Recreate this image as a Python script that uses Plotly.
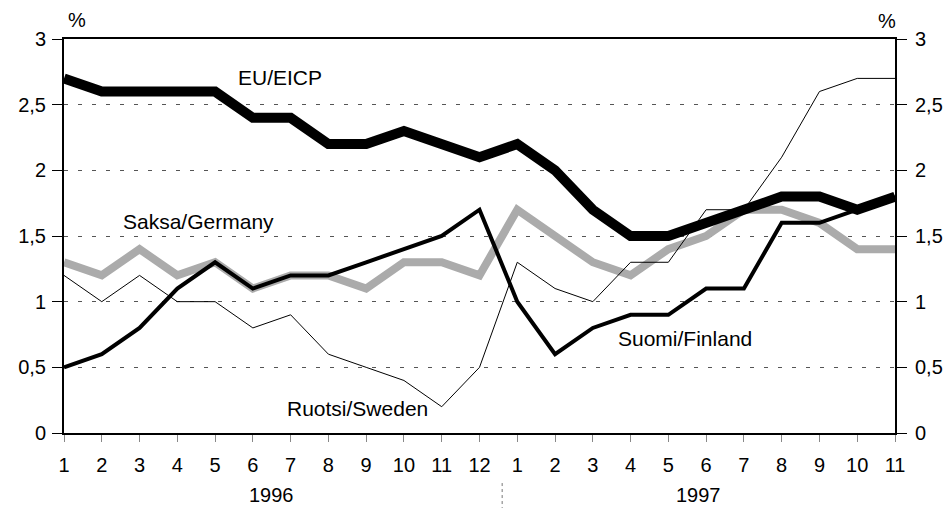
import plotly.graph_objects as go

months = ["1","2","3","4","5","6","7","8","9","10","11","12",
          "1","2","3","4","5","6","7","8","9","10","11"]
years = ["1996", "1997"]
y_ticks = [0, 0.5, 1, 1.5, 2, 2.5, 3]
y_tick_labels = ["0", "0,5", "1", "1,5", "2", "2,5", "3"]

eu = [2.7, 2.6, 2.6, 2.6, 2.6, 2.4, 2.4, 2.2, 2.2, 2.3, 2.2, 2.1,
      2.2, 2.0, 1.7, 1.5, 1.5, 1.6, 1.7, 1.8, 1.8, 1.7, 1.8]
finland = [0.5, 0.6, 0.8, 1.1, 1.3, 1.1, 1.2, 1.2, 1.3, 1.4, 1.5, 1.7,
           1.0, 0.6, 0.8, 0.9, 0.9, 1.1, 1.1, 1.6, 1.6, 1.7, 1.8]
sweden = [1.2, 1.0, 1.2, 1.0, 1.0, 0.8, 0.9, 0.6, 0.5, 0.4, 0.2, 0.5,
          1.3, 1.1, 1.0, 1.3, 1.3, 1.7, 1.7, 2.1, 2.6, 2.7, 2.7]
germany = [1.3, 1.2, 1.4, 1.2, 1.3, 1.1, 1.2, 1.2, 1.1, 1.3, 1.3, 1.2,
           1.7, 1.5, 1.3, 1.2, 1.4, 1.5, 1.7, 1.7, 1.6, 1.4, 1.4]

x = list(range(len(months)))
FONT = "Liberation Sans, Arial, sans-serif"

# page body has an 8px margin, so the figure is placed at (8, 8)
fig = go.Figure()
fig.add_trace(go.Scatter(x=x, y=germany, mode="lines", name="Saksa/Germany",
                         line=dict(color="#ababab", width=8)))
fig.add_trace(go.Scatter(x=x, y=sweden, mode="lines", name="Ruotsi/Sweden",
                         line=dict(color="black", width=1)))
fig.add_trace(go.Scatter(x=x, y=finland, mode="lines", name="Suomi/Finland",
                         line=dict(color="black", width=4)))
fig.add_trace(go.Scatter(x=x, y=eu, mode="lines", name="EU/EICP",
                         line=dict(color="black", width=10)))
fig.add_trace(go.Scatter(x=[x[0]], y=[eu[0]], yaxis="y2", mode="markers",
                         marker=dict(opacity=0), showlegend=False, hoverinfo="skip"))

axis_font = dict(family=FONT, size=20, color="black")

fig.update_layout(
    width=936, height=500,
    margin=dict(l=56, r=49, t=31, b=75),
    paper_bgcolor="white", plot_bgcolor="white",
    showlegend=False,
    font=dict(family=FONT, color="black"),
    xaxis=dict(range=[0, 22], tickvals=x, ticktext=months, tickfont=axis_font,
               showgrid=False, zeroline=False, showline=True, linecolor="black",
               linewidth=2, mirror=True, ticks="outside", ticklen=7,
               tickcolor="#888", tickwidth=1, ticklabelstandoff=6,
               automargin=False),
    yaxis=dict(range=[0, 3], tickvals=y_ticks, ticktext=y_tick_labels,
               tickfont=axis_font, showgrid=True, gridcolor="#555",
               griddash="4px,10px", gridwidth=1, zeroline=False, showline=True,
               linecolor="black", linewidth=2, ticks="outside", ticklen=10,
               tickcolor="black", ticklabelstandoff=2, automargin=False),
    yaxis2=dict(range=[0, 3], tickvals=y_ticks, ticktext=y_tick_labels,
                tickfont=axis_font, overlaying="y", side="right", anchor="x",
                showgrid=False, zeroline=False, showline=True, linecolor="black",
                linewidth=2, ticks="outside", ticklen=10, tickcolor="black",
                ticklabelstandoff=4, automargin=False),
)

lab = dict(family=FONT, size=21, color="black")
fig.add_annotation(x=5.72, y=2.71, text="EU/EICP", showarrow=False, font=lab)
fig.add_annotation(x=3.57, y=1.607, text="Saksa/Germany", showarrow=False, font=lab)
fig.add_annotation(x=7.76, y=0.19, text="Ruotsi/Sweden", showarrow=False, font=lab)
fig.add_annotation(x=16.44, y=0.72, text="Suomi/Finland", showarrow=False, font=lab)

fig.add_annotation(x=5.5, y=-0.157, xref="x", yref="paper", text=years[0],
                   showarrow=False, font=axis_font, yanchor="middle")
fig.add_annotation(x=16.8, y=-0.157, xref="x", yref="paper", text=years[1],
                   showarrow=False, font=axis_font, yanchor="middle")
fig.add_annotation(x=(77 - 64) / 831, y=1 + (39 - 20) / 394, xref="paper", yref="paper",
                   text="%", showarrow=False, font=axis_font,
                   xanchor="center", yanchor="middle")
fig.add_annotation(x=(887 - 64) / 831, y=1 + (39 - 21) / 394, xref="paper", yref="paper",
                   text="%", showarrow=False, font=axis_font,
                   xanchor="center", yanchor="middle")

fig.add_shape(type="line", xref="x", yref="paper", x0=11.6, x1=11.6,
              y0=-0.127, y1=-0.19, line=dict(color="#777", width=1, dash="dot"))

fig.write_html("out.html")
